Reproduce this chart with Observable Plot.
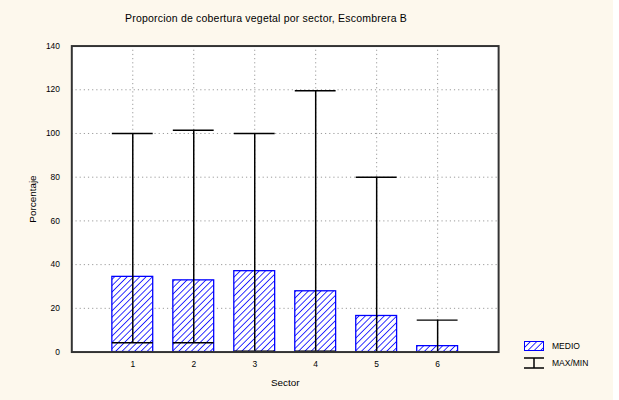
<!DOCTYPE html>
<html>
<head>
<meta charset="utf-8">
<script src="https://cdn.jsdelivr.net/npm/d3@7"></script>
<script src="https://cdn.jsdelivr.net/npm/@observablehq/plot@0.6"></script>
<style>
  html, body { margin: 0; padding: 0; background: #ffffff; }
  #wrap { position: relative; width: 613px; height: 400px; background: #fdf8ed; font-family: "Liberation Sans", Arial, sans-serif; overflow: hidden; }
  #title { position: absolute; left: 0; width: 532px; top: 12px; text-align: center; font-size: 10.5px; color: #000; letter-spacing: 0.2px; z-index: 2; }
  #legend { position: absolute; left: 524px; top: 337px; font-size: 8.5px; color: #000; z-index: 2; }
  .li { display: flex; align-items: center; height: 17px; }
  .li span { margin-left: 8px; }
  #wrap > svg { position: absolute; left: 0; top: 0; }
  #wrap g[aria-label="y-axis label"] text, #wrap g[aria-label="x-axis label"] text { font-size: 10px; }
</style>
</head>
<body>
<svg width="0" height="0" style="position:absolute">
  <defs>
    <pattern id="hatch" patternUnits="userSpaceOnUse" width="4.5" height="4.5" patternTransform="rotate(45)">
      <rect width="4.5" height="4.5" fill="#ffffff"></rect>
      <line x1="0" y1="0" x2="0" y2="4.5" stroke="#0000ff" stroke-width="1.6"></line>
    </pattern>
  </defs>
</svg>
<div id="wrap">
  <div id="title">Proporcion de cobertura vegetal por sector, Escombrera B</div>
  <div id="legend">
    <div class="li"><svg width="20" height="10"><rect x="0.5" y="0.5" width="19" height="9" fill="url(#hatch)" stroke="#0000ff"></rect></svg><span>MEDIO</span></div>
    <div class="li"><svg width="20" height="12"><line x1="0" y1="1" x2="20" y2="1" stroke="#000" stroke-width="1.5"></line><line x1="10" y1="1" x2="10" y2="11" stroke="#000" stroke-width="1.5"></line><line x1="0" y1="11" x2="20" y2="11" stroke="#000" stroke-width="1.5"></line></svg><span>MAX/MIN</span></div>
  </div>
</div>
<script>
const sectors = [1, 2, 3, 4, 5, 6];
const medio = [34.4, 32.8, 37.0, 27.8, 16.5, 2.7];
const maxVals = [100, 101.5, 100, 119.5, 80, 14.6];
const minVals = [4.2, 4.2, 0.4, 0.4, 0, 0];
const yTicks = [0, 20, 40, 60, 80, 100, 120, 140];
const gridY = [20, 40, 60, 80, 100, 120];

const data = sectors.map((s, i) => ({sector: s, medio: medio[i], max: maxVals[i], min: minVals[i]}));
const half = 0.335;

const chart = Plot.plot({
  width: 619,
  height: 400,
  marginLeft: 72,
  marginRight: 116,
  marginTop: 46,
  marginBottom: 45,
  style: {background: "transparent", fontFamily: "Liberation Sans, Arial, sans-serif", fontSize: "8.5px", color: "#000"},
  x: {domain: [0, 7], ticks: sectors, tickFormat: d => String(d), tickSize: 0, tickPadding: 9, label: "Sector", labelAnchor: "center", labelOffset: 34, labelArrow: "none"},
  y: {domain: [0, 140], ticks: yTicks, tickSize: 0, tickPadding: 12, label: "Porcentaje", labelAnchor: "center", labelOffset: 43, labelArrow: "none"},
  marks: [
    Plot.frame({fill: "#ffffff", stroke: "none"}),
    Plot.ruleY(gridY, {stroke: "#9a9a9a", strokeDasharray: "1.2,3", strokeWidth: 1}),
    Plot.ruleX(sectors, {stroke: "#9a9a9a", strokeDasharray: "1.2,3", strokeWidth: 1}),
    Plot.rect(data, {x1: d => d.sector - half, x2: d => d.sector + half, y1: 0, y2: "medio", fill: "url(#hatch)", stroke: "#0000ff", strokeWidth: 1.3}),
    Plot.ruleX(data, {x: "sector", y1: "min", y2: "max", stroke: "#000", strokeWidth: 1.5}),
    Plot.ruleY(data, {y: "max", x1: d => d.sector - half, x2: d => d.sector + half, stroke: "#000", strokeWidth: 1.5}),
    Plot.ruleY(data, {y: "min", x1: d => d.sector - half, x2: d => d.sector + half, stroke: "#000", strokeWidth: 1.5}),
    Plot.frame({stroke: "#333", strokeWidth: 2})
  ]
});
document.getElementById("wrap").appendChild(chart);
</script>
</body>
</html>
